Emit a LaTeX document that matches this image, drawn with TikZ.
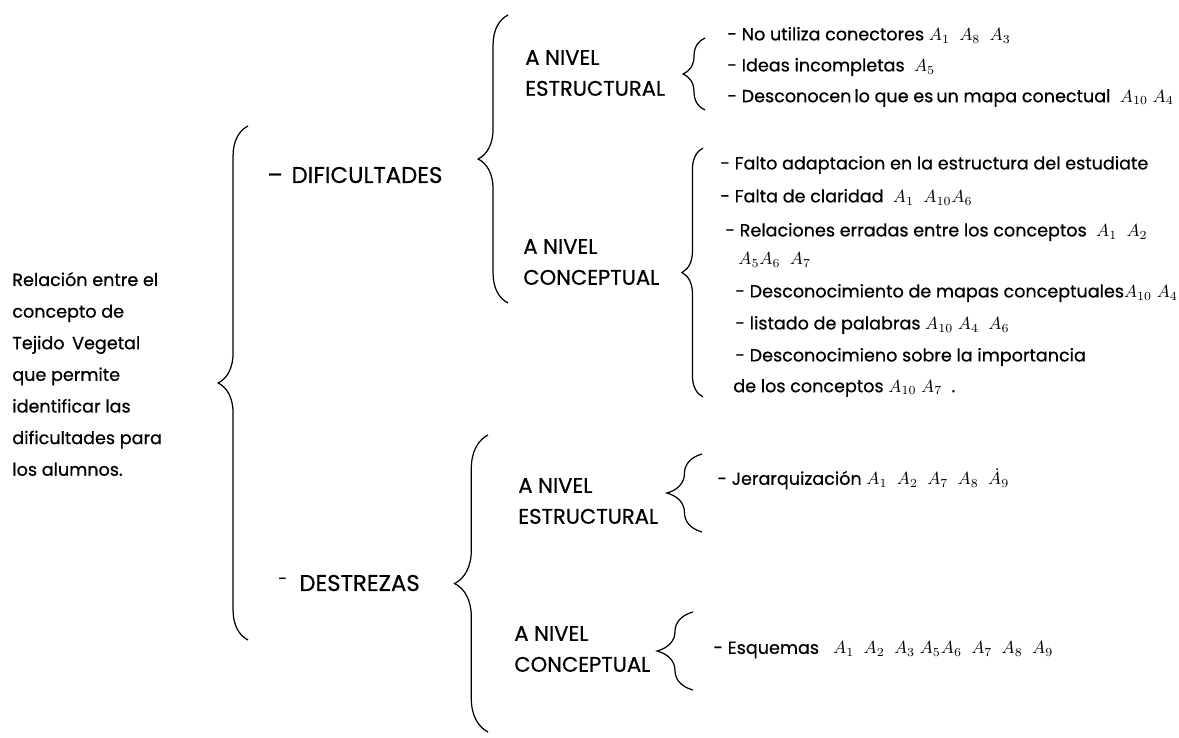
\documentclass[tikz,border=0pt]{standalone}
\usepackage{fontspec}
\setmainfont{Poppins}[FakeBold=0.6]
\usepackage{tikz}
\usetikzlibrary{decorations.pathreplacing}

\begin{document}
\begin{tikzpicture}[x=0.02cm, y=-0.02cm,
    txt/.style = {anchor=west, inner sep=0pt, font=\fontsize{10}{18}\selectfont},
    mayus/.style = {anchor=west, inner sep=0pt, align=left, font=\fontsize{12}{17.6}\selectfont},
    brc/.style = {decorate, decoration={brace, amplitude=#1}, line width=0.7pt}]
    \useasboundingbox (0,0) rectangle (1179,737);

    % left column
    \node[txt, align=left] (tema) at (12,374) {Relación entre el\\concepto de\\Tejido\, Vegetal\\que permite\\identificar las\\dificultades para\\los alumnos.};
    \node[mayus, font=\fontsize{13}{16}\selectfont] (dif) at (267,175) {–\hspace{5pt}DIFICULTADES};
    \node[mayus, font=\fontsize{13}{16}\selectfont] (des) at (278,583) {\raisebox{4pt}{\fontsize{9}{9}\selectfont -}\hspace{7pt}DESTREZAS};

    % A NIVEL ...
    \node[mayus] (difE) at (525,73)  {A NIVEL\\ESTRUCTURAL};
    \node[mayus] (difC) at (523,262) {A NIVEL\\CONCEPTUAL};
    \node[mayus] (desE) at (518,501) {A NIVEL\\ESTRUCTURAL};
    \node[mayus] (desC) at (514,649) {A NIVEL\\CONCEPTUAL};

    % items
    \node[txt] (e1) at (727,35)  {- No utiliza conectores $A_1$\ \ $A_8$\ \ $A_3$};
    \node[txt] (e2) at (727,67)  {- Ideas incompletas\ \ $A_5$};
    \node[txt] (e3) at (727,98)  {- Desconocen\,lo que es\,un mapa conectual\ \ $A_{10}$\ $A_4$};
    \node[txt] (c1) at (720,165) {- Falto adaptacion en la estructura del estudiate};
    \node[txt] (c2) at (720,197) {- Falta de claridad\ \ $A_1$\ \ $A_{10}A_6$};
    \node[txt] (c3) at (725,232) {- Relaciones erradas entre los conceptos\ \ $A_1$\ \ $A_2$};
    \node[txt] (c4) at (738,260) {$A_5A_6$\ \ $A_7$};
    \node[txt] (c5) at (735,293) {- Desconocimiento de mapas conceptuales$A_{10}$\ $A_4$};
    \node[txt] (c6) at (735,325) {- listado de palabras\ $A_{10}$\ $A_4$\ \ $A_6$};
    \node[txt] (c7) at (735,357) {- Desconocimieno sobre la importancia};
    \node[txt] (c8) at (733,388) {de los conceptos $A_{10}$\ $A_7$\ \ .};
    \node[txt] (j1) at (717,479) {- Jerarquización $A_1$\ \ $A_2$\ \ $A_7$\ \ $A_8$\ \ $\dot{A}_9$};
    \node[txt] (q1) at (713,650) {- Esquemas\ \ \ $A_1$\ \ $A_2$\ \ $A_3$\ $A_5A_6$\ \ $A_7$\ \ $A_8$\ \ $A_9$};

    % brace ends
    \coordinate (temaB) at (248,640);  \coordinate (temaT) at (248,126);
    \coordinate (difB)  at (508,303);  \coordinate (difT)  at (508,15);
    \coordinate (desB)  at (488,732);  \coordinate (desT)  at (488,435);
    \coordinate (difEB) at (705,110);  \coordinate (difET) at (705,38);
    \coordinate (difCB) at (703,397);  \coordinate (difCT) at (703,148);
    \coordinate (desEB) at (702,532);  \coordinate (desET) at (702,454);
    \coordinate (desCB) at (693,690);  \coordinate (desCT) at (693,612);

    \draw[brc=17pt]   (temaB) -- (temaT);
    \draw[brc=17pt]   (difB)  -- (difT);
    \draw[brc=19pt]   (desB)  -- (desT);
    \draw[brc=12.5pt] (difEB) -- (difET);
    \draw[brc=12pt]   (difCB) -- (difCT);
    \draw[brc=20pt]   (desEB) -- (desET);
    \draw[brc=20.5pt] (desCB) -- (desCT);
\end{tikzpicture}
\end{document}
